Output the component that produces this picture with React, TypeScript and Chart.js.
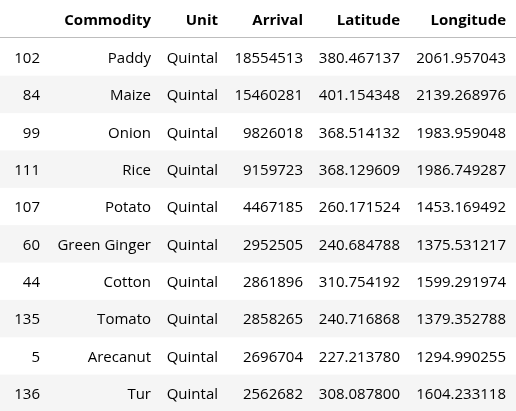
import { useEffect, useRef } from "react";
import Chart from "chart.js/auto";

const columns = ["", "Commodity", "Unit", "Arrival", "Latitude", "Longitude"];
const ids = ["102", "84", "99", "111", "107", "60", "44", "135", "5", "136"];
const commodities = ["Paddy", "Maize", "Onion", "Rice", "Potato", "Green Ginger", "Cotton", "Tomato", "Arecanut", "Tur"];
const units = ["Quintal", "Quintal", "Quintal", "Quintal", "Quintal", "Quintal", "Quintal", "Quintal", "Quintal", "Quintal"];
const arrivals = ["18554513", "15460281", "9826018", "9159723", "4467185", "2952505", "2861896", "2858265", "2696704", "2562682"];
const latitudes = ["380.467137", "401.154348", "368.514132", "368.129609", "260.171524", "240.684788", "310.754192", "240.716868", "227.213780", "308.087800"];
const longitudes = ["2061.957043", "2139.268976", "1983.959048", "1986.749287", "1453.169492", "1375.531217", "1599.291974", "1379.352788", "1294.990255", "1604.233118"];

// right edges of columns in px
const colRight = [40, 151, 218, 303, 400, 506];

const App = () => {
  const canvasRef = useRef<HTMLCanvasElement | null>(null);

  useEffect(() => {
    if (!canvasRef.current) return;
    const rowLabels = ["header", ...ids];

    const tablePlugin = {
      id: "table",
      beforeDatasetsDraw(chart: any) {
        const { ctx, scales } = chart;
        const y = scales.y;
        const x = scales.x;
        const step = y.getPixelForValue(1) - y.getPixelForValue(0);
        const dy = 2.5;
        ctx.save();
        ids.forEach((_, i) => {
          if (i % 2 === 1) {
            const cy = y.getPixelForValue(i + 1) + 1;
            ctx.fillStyle = "#f5f5f5";
            ctx.fillRect(x.getPixelForValue(0), cy - step / 2, x.getPixelForValue(516) - x.getPixelForValue(0), step);
          }
        });
        const lineY = Math.round(y.getPixelForValue(0) + step / 2) + 0.5;
        ctx.strokeStyle = "#bdbdbd";
        ctx.lineWidth = 1;
        ctx.beginPath();
        ctx.moveTo(x.getPixelForValue(0), lineY);
        ctx.lineTo(x.getPixelForValue(516), lineY);
        ctx.stroke();

        ctx.textAlign = "right";
        ctx.textBaseline = "middle";
        ctx.fillStyle = "#000";
        ctx.font = "bold 15px 'Open Sans', sans-serif";
        columns.forEach((c, j) => ctx.fillText(c, x.getPixelForValue(colRight[j]), y.getPixelForValue(0) + dy));
        ctx.font = "15px 'Open Sans', sans-serif";
        ids.forEach((id, i) => {
          const cy = y.getPixelForValue(i + 1) + dy;
          const cells = [id, commodities[i], units[i], arrivals[i], latitudes[i], longitudes[i]];
          cells.forEach((t, j) => ctx.fillText(t, x.getPixelForValue(colRight[j]), cy));
        });
        ctx.restore();
      },
    };

    const chart = new Chart(canvasRef.current, {
      type: "scatter",
      data: {
        datasets: [{ data: [], pointRadius: 0 }],
      },
      options: {
        animation: false,
        responsive: false,
        layout: { padding: 0 },
        plugins: { legend: { display: false }, tooltip: { enabled: false } },
        scales: {
          x: { type: "linear", min: 0, max: 516, display: false },
          y: { type: "category", labels: rowLabels, offset: true, display: false },
        },
      },
      plugins: [tablePlugin],
    });

    return () => {
      chart.destroy();
    };
  }, []);

  return (
    <div style={{ position: "fixed", left: 0, top: 0, width: 516, height: 411, background: "#fff" }}>
      <canvas ref={canvasRef} width={516} height={411} style={{ width: 516, height: 411 }} />
    </div>
  );
};

export default App;
